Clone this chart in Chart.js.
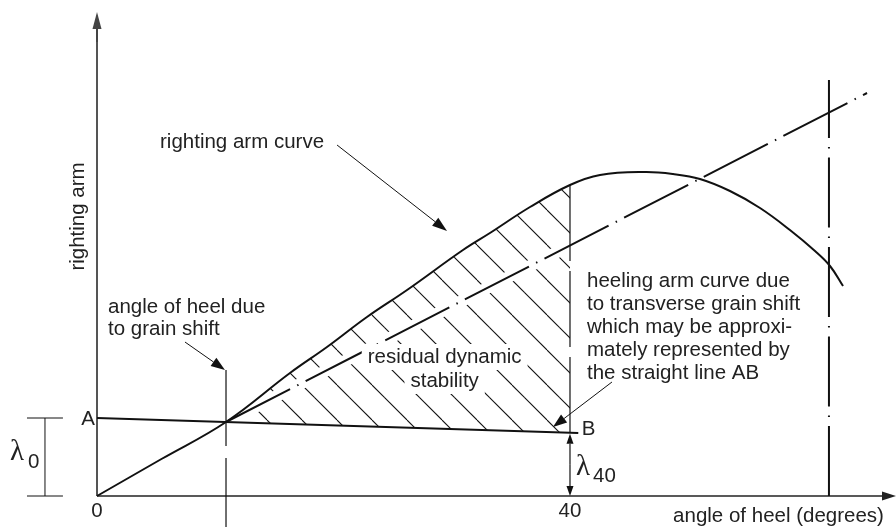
<!DOCTYPE html>
<html>
<head>
<meta charset="utf-8">
<script src="https://cdn.jsdelivr.net/npm/chart.js@4.4.1/dist/chart.umd.min.js"></script>
<style>
  html, body { margin: 0; padding: 0; background: #fff; }
  #wrap { width: 896px; height: 527px; position: relative; }
</style>
</head>
<body>
<div id="wrap"><canvas id="stability"></canvas></div>
<script>
// angle of heel (degrees) vs righting arm (arbitrary units)
const rightingX = [0, 5.45, 10.91, 16.32, 19.45, 22.83, 26.22, 30.95, 33.23, 36.62, 40, 42.54, 46.34, 48.71, 50.99, 53.53, 56.07, 58.60, 60.72, 61.99, 63.09];
const rightingY = [0, 0.37, 0.74, 1.23, 1.49, 1.79, 2.06, 2.46, 2.63, 2.89, 3.11, 3.21, 3.24, 3.22, 3.17, 3.05, 2.88, 2.66, 2.45, 2.30, 2.10];

// heeling arm line AB (grain shift)
const abX = [0, 40.7];
const abY = [0.78, 0.63];

// dash-dot straight line from the angle of heel due to grain shift
const heelX = [10.91, 65.12];
const heelY = [0.74, 4.03];

// vertical marker lines
const grainAngle = 10.91;
const grainY = [1.26, -0.31];
const checkAngle = 40;
const checkY = [3.11, 0.64];
const limitAngle = 61.9;
const limitY = [0, 4.16];

// x tick labels
const tickValues = [0, 40];
const tickLabels = ['0', '40'];

const xMax = 67.57;
const yMax = 4.84;

const pts = (xs, ys) => xs.map((x, i) => ({ x: x, y: ys[i] }));
const abAt = a => abY[0] + (abY[1] - abY[0]) * (a - abX[0]) / (abX[1] - abX[0]);

// base of the hatched area: AB between the two angles
const hatchX = [grainAngle, checkAngle];
const hatchY = hatchX.map(abAt);

function hatchPattern() {
    const s = 35;
    const c = document.createElement('canvas');
    c.width = s; c.height = s;
    const g = c.getContext('2d');
    g.strokeStyle = '#111';
    g.lineWidth = 1.1;
    for (let k = -2; k <= 1; k++) {
        const o = 22 + k * s;
        g.beginPath();
        g.moveTo(o, 0);
        g.lineTo(o + s, s);
        g.stroke();
    }
    return g.createPattern(c, 'repeat');
}

const FONT = '20.5px "Liberation Sans", Arial, sans-serif';
const INK = '#222';

function arrow(ctx, x1, y1, x2, y2, len, half, width) {
    const a = Math.atan2(y2 - y1, x2 - x1);
    const bx = x2 - len * Math.cos(a), by = y2 - len * Math.sin(a);
    ctx.lineWidth = width;
    ctx.beginPath();
    ctx.moveTo(x1, y1);
    ctx.lineTo(bx, by);
    ctx.stroke();
    ctx.beginPath();
    ctx.moveTo(x2, y2);
    ctx.lineTo(bx + half * Math.sin(a), by - half * Math.cos(a));
    ctx.lineTo(bx - half * Math.sin(a), by + half * Math.cos(a));
    ctx.closePath();
    ctx.fill();
}

const annotations = {
    id: 'annotations',
    afterDatasetsDraw(chart) {
        const { ctx, scales: { x, y } } = chart;
        const px = v => x.getPixelForValue(v);
        const py = v => y.getPixelForValue(v);
        ctx.save();

        // axis arrow heads
        ctx.fillStyle = '#444';
        ctx.strokeStyle = '#444';
        arrow(ctx, px(0), py(yMax - 0.3), px(0), py(yMax), 17, 4.5, 2);
        ctx.fillStyle = '#222';
        ctx.strokeStyle = '#222';
        arrow(ctx, px(xMax - 0.5), py(0), px(xMax), py(0), 14, 4.5, 1.6);

        // pointer arrows
        ctx.fillStyle = '#111';
        ctx.strokeStyle = '#111';
        arrow(ctx, px(20.30), py(3.51), px(29.60), py(2.65), 15, 5, 1);
        arrow(ctx, px(7.44), py(1.54), px(10.82), py(1.26), 14, 5, 1);
        arrow(ctx, px(43.55), py(1.14), px(38.56), py(0.69), 14, 5, 1);

        // lambda 40 dimension
        const b40 = abAt(checkAngle);
        const mid = (py(b40) + py(0)) / 2;
        arrow(ctx, px(checkAngle), mid, px(checkAngle), py(b40) + 1, 10, 3.5, 1.2);
        arrow(ctx, px(checkAngle), mid, px(checkAngle), py(0), 10, 3.5, 1.2);

        // residual dynamic stability label, on a white ground
        ctx.font = FONT;
        ctx.textAlign = 'center';
        ctx.textBaseline = 'alphabetic';
        [['residual dynamic', 29.4, 1.33], ['stability', 29.4, 1.09]].forEach(([t, tx, ty]) => {
            const w = ctx.measureText(t).width + 12;
            ctx.fillStyle = '#fff';
            ctx.fillRect(px(tx) - w / 2, py(ty) - 19, w, 26);
        });
        ctx.fillStyle = INK;
        ctx.fillText('residual dynamic', px(29.4), py(1.33));
        ctx.fillText('stability', px(29.4), py(1.09));

        // left aligned notes
        ctx.textAlign = 'left';
        const notes = [
            ['righting arm curve', 5.33, 3.48],
            ['angle of heel due', 0.93, 1.83],
            ['to grain shift', 0.93, 1.61],
            ['heeling arm curve due', 41.44, 2.09],
            ['to transverse grain shift', 41.44, 1.86],
            ['which may be approxi-', 41.44, 1.63],
            ['mately represented by', 41.44, 1.40],
            ['the straight line AB', 41.44, 1.17],
            ['B', 41.0, 0.61]
        ];
        notes.forEach(([t, tx, ty]) => ctx.fillText(t, px(tx), py(ty)));

        ctx.textAlign = 'right';
        ctx.fillText('A', px(-0.17), py(0.71));
        ctx.fillText('angle of heel (degrees)', px(66.55), py(-0.26));

        ctx.textAlign = 'center';
        tickValues.forEach((v, i) => ctx.fillText(tickLabels[i], px(v), py(-0.21)));

        // y axis title
        ctx.save();
        ctx.translate(78, py(2.795));
        ctx.rotate(-Math.PI / 2);
        ctx.textBaseline = 'middle';
        ctx.fillText('righting arm', 0, 0);
        ctx.restore();

        // lambda symbols
        ctx.textAlign = 'left';
        ctx.font = '29px "Liberation Serif", "Times New Roman", serif';
        ctx.fillText('\u03bb', 10, py(0.36));
        ctx.fillText('\u03bb', px(checkAngle) + 6, py(0.21));
        ctx.font = FONT;
        ctx.fillText('0', 28, py(0.28));
        ctx.fillText('40', px(checkAngle) + 23, py(0.14));

        ctx.restore();
    }
};

const thin = { pointRadius: 0, clip: false, fill: false };

const datasets = [
    { // 0 hatched area: AB up to the righting arm curve
        data: pts(hatchX, hatchY), borderWidth: 0, borderColor: 'rgba(0,0,0,0)',
        backgroundColor: hatchPattern(), fill: { target: 4 },
        pointRadius: 0, order: 10
    },
    { // 1 line AB
        ...thin, data: pts(abX, abY), borderColor: '#111', borderWidth: 2, order: 0
    },
    { // 2 white halo under dash-dot line
        ...thin, data: pts(heelX, heelY), borderColor: '#fff', borderWidth: 12, order: 9
    },
    { // 3 dash-dot line
        ...thin, data: pts(heelX, heelY), borderColor: '#111', borderWidth: 2,
        borderDash: [72, 8, 1.5, 8], order: 0
    },
    { // 4 righting arm curve
        ...thin, data: pts(rightingX, rightingY), borderColor: '#111', borderWidth: 2,
        tension: 0.4, order: 0
    },
    { // 5 angle of heel due to grain shift
        ...thin, data: pts([grainAngle, grainAngle], grainY), borderColor: '#111', borderWidth: 1.2,
        borderDash: [76, 12], order: 0
    },
    { // 6 vertical at 40 degrees
        ...thin, data: pts([checkAngle, checkAngle], checkY), borderColor: '#111', borderWidth: 1.2,
        borderDash: [76, 10], order: 0
    },
    { // 7 limiting angle
        ...thin, data: pts([limitAngle, limitAngle], limitY), borderColor: '#111', borderWidth: 2,
        borderDash: [70, 9, 1.5, 9], order: 0
    },
    { // 8 y axis
        ...thin, data: pts([0, 0], [0, yMax - 0.1]), borderColor: '#555', borderWidth: 2, order: 0
    },
    { // 9 x axis
        ...thin, data: pts([0, xMax - 0.5], [0, 0]), borderColor: '#222', borderWidth: 1.6, order: 0
    },
    { // 10-12 lambda 0 dimension
        ...thin, data: pts([-5.92, -2.88], [abY[0], abY[0]]), borderColor: '#111', borderWidth: 1, order: 0
    },
    {
        ...thin, data: pts([-5.92, -2.88], [0, 0]), borderColor: '#111', borderWidth: 1, order: 0
    },
    {
        ...thin, data: pts([-4.4, -4.4], [0, abY[0]]), borderColor: '#111', borderWidth: 1, order: 0
    }
];

new Chart(document.getElementById('stability'), {
    type: 'line',
    data: { datasets: datasets },
    options: {
        responsive: true,
        maintainAspectRatio: false,
        animation: false,
        devicePixelRatio: 1,
        layout: { padding: { left: 97, right: 0, top: 12, bottom: 31 } },
        scales: {
            x: { type: 'linear', min: 0, max: xMax, display: false },
            y: { type: 'linear', min: 0, max: yMax, display: false }
        },
        plugins: {
            legend: { display: false },
            tooltip: { enabled: false }
        }
    },
    plugins: [annotations]
});
</script>
</body>
</html>
